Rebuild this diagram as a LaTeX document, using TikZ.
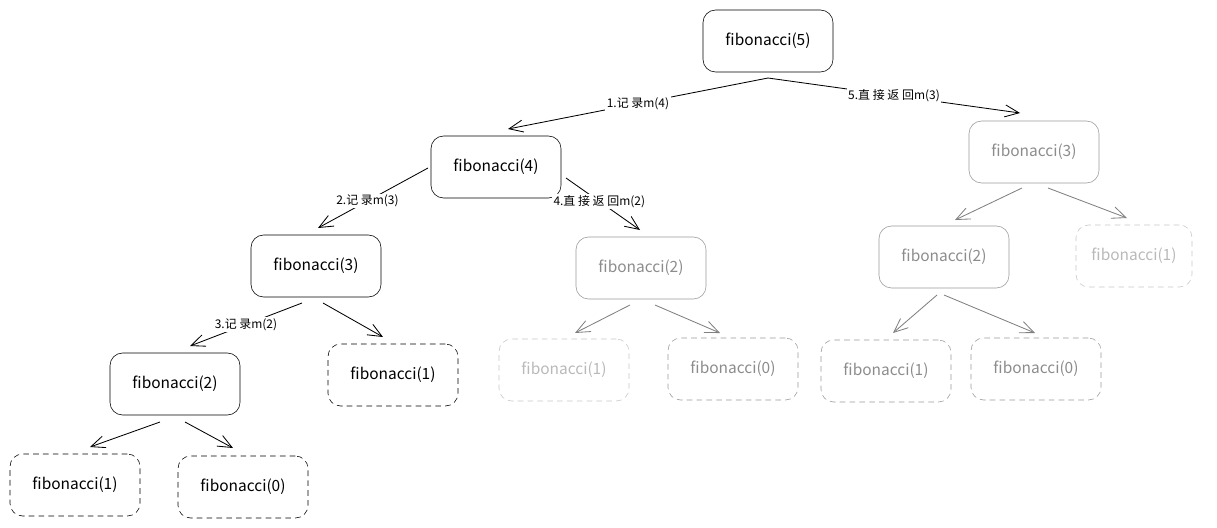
\documentclass[tikz,border=0pt]{standalone}
\usepackage{fontspec}
\setmainfont{Noto Sans CJK SC}
\usetikzlibrary{arrows.meta}
\tikzset{
  call/.style={draw, rounded corners=9pt, minimum width=3.25cm, minimum height=1.55cm, font=\fontsize{11}{13}\selectfont},
  done/.style={call, draw=gray!80, text=gray!90},
  leaf/.style={call, dashed, dash pattern=on 4pt off 3pt},
  faded/.style={leaf, draw=gray!45, text=gray!55},
  memo/.style={fill=white, inner sep=1pt, font=\fontsize{8.5}{10}\selectfont},
  edge/.style={-{Straight Barb[length=3.5mm,width=3mm]}, semithick},
}
\begin{document}
\begin{tikzpicture}[x=0.025cm, y=-0.025cm]
  \useasboundingbox (0,0) rectangle (1217,527);
  % nodes
  \node[call] (f5) at (768,41) {fibonacci(5)};
  \node[call] (f4) at (496,167) {fibonacci(4)};
  \node[done] (f3r) at (1034,152) {fibonacci(3)};
  \node[call] (f3) at (316,266) {fibonacci(3)};
  \node[done] (f2m) at (641,268) {fibonacci(2)};
  \node[done] (f2r) at (944,257) {fibonacci(2)};
  \node[faded, minimum width=2.9cm] (f1r) at (1134,256) {fibonacci(1)};
  \node[call] (f2) at (175,384) {fibonacci(2)};
  \node[leaf] (f1a) at (393,375) {fibonacci(1)};
  \node[faded] (f1b) at (564,370) {fibonacci(1)};
  \node[done, dashed, dash pattern=on 4pt off 3pt] (f0b) at (733,369) {fibonacci(0)};
  \node[done, dashed, dash pattern=on 4pt off 3pt] (f1c) at (886,371) {fibonacci(1)};
  \node[done, dashed, dash pattern=on 4pt off 3pt] (f0c) at (1036,369) {fibonacci(0)};
  \node[leaf] (f1d) at (75,485) {fibonacci(1)};
  \node[leaf] (f0d) at (243,487) {fibonacci(0)};
  % arrow ends
  \coordinate (s5) at (768,78);
  \coordinate (t4) at (508,129);
  \coordinate (t3r) at (1020,113);
  \coordinate (s4l) at (428,168);
  \coordinate (t3) at (318,228);
  \coordinate (s4r) at (566,178);
  \coordinate (t2m) at (640,230);
  \coordinate (s3l) at (302,303);
  \coordinate (t2) at (190,346);
  \coordinate (s3r) at (323,303);
  \coordinate (t1a) at (383,337);
  \coordinate (s2l) at (160,422);
  \coordinate (t1d) at (90,447);
  \coordinate (s2r) at (185,422);
  \coordinate (t0d) at (233,448);
  \coordinate (sml) at (630,305);
  \coordinate (t1b) at (575,333);
  \coordinate (smr) at (655,305);
  \coordinate (t0b) at (720,333);
  \coordinate (srl) at (1022,188);
  \coordinate (t2r) at (955,220);
  \coordinate (srr) at (1048,188);
  \coordinate (t1r) at (1127,218);
  \coordinate (sql) at (937,295);
  \coordinate (t1c) at (893,333);
  \coordinate (sqr) at (944,295);
  \coordinate (t0c) at (1035,333);
  % memo edges
  \draw[edge] (s5) -- node[memo, pos=0.5] {1.记 录m(4)} (t4);
  \draw[edge] (s5) -- node[memo, pos=0.5] {5.直 接 返 回m(3)} (t3r);
  \draw[edge] (s4l) -- node[memo, pos=0.55] {2.记 录m(3)} (t3);
  \draw[edge] (s4r) -- node[memo, pos=0.45] {4.直 接 返 回m(2)} (t2m);
  \draw[edge] (s3l) -- node[memo, pos=0.5] {3.记 录m(2)} (t2);
  % plain edges
  \draw[edge] (s3r) -- (t1a);
  \draw[edge] (s2l) -- (t1d);
  \draw[edge] (s2r) -- (t0d);
  \draw[edge, gray] (sml) -- (t1b);
  \draw[edge, gray] (smr) -- (t0b);
  \draw[edge, gray] (srl) -- (t2r);
  \draw[edge, gray] (srr) -- (t1r);
  \draw[edge, gray] (sql) -- (t1c);
  \draw[edge, gray] (sqr) -- (t0c);
\end{tikzpicture}
\end{document}
